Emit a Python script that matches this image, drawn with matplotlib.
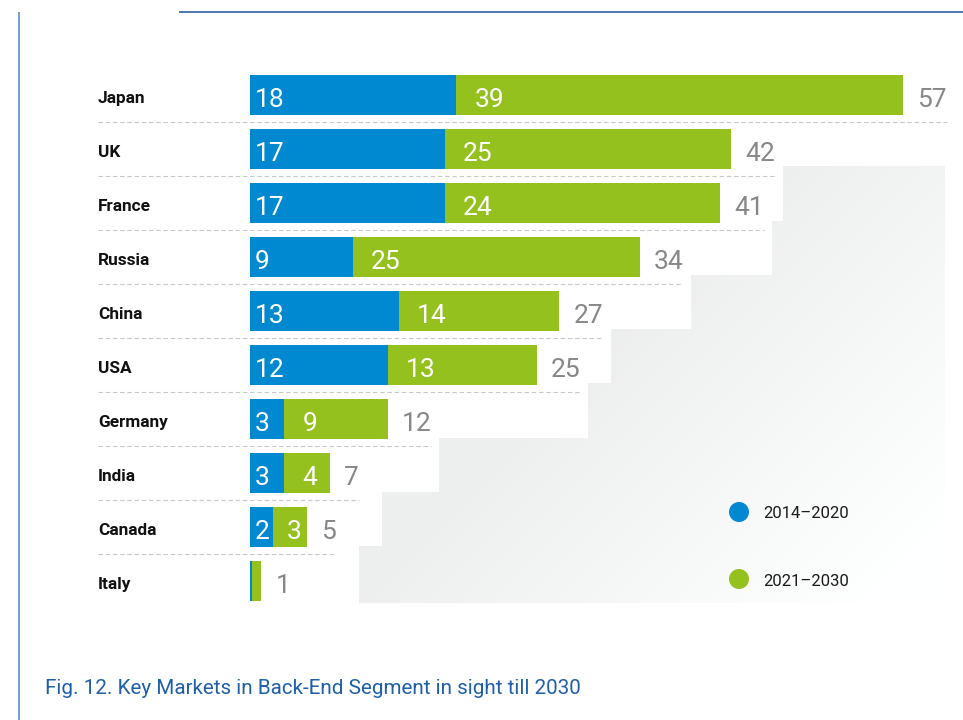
import numpy as np
import matplotlib
matplotlib.use("Agg")
import matplotlib.pyplot as plt
from matplotlib.patches import Polygon, Circle
from matplotlib.transforms import blended_transform_factory

# Markets and their volumes for the two periods
countries = ["Japan", "UK", "France", "Russia", "China", "USA",
             "Germany", "India", "Canada", "Italy"]
period_2014_2020 = [18, 17, 17, 9, 13, 12, 3, 3, 2, 0.15]
period_2021_2030 = [39, 25, 24, 25, 14, 13, 9, 4, 3, 0.85]
series_names = ["2014–2020", "2021–2030"]
caption = "Fig. 12. Key Markets in Back-End Segment in sight till 2030"

BLUE = "#0089d1"
GREEN = "#95c11f"
GREY_NUM = "#878787"
FONT = ["Roboto", "DejaVu Sans"]
plt.rcParams["lines.scale_dashes"] = False

W, H = 963, 720
fig = plt.figure(figsize=(W / 100, H / 100), dpi=100)

# background layer in pixel coordinates
bg = fig.add_axes([0, 0, 1, 1], zorder=0)
bg.axis("off")

# light grey staircase with a diagonal fade
yy, xx = np.mgrid[0:H, 0:W]
t = np.clip(((xx + yy) - 950) / 520, 0, 1)
shade = 0.932 + (0.998 - 0.932) * t
img = np.clip(np.dstack([shade, shade + 0.003, shade + 0.003]), 0, 1)
im = bg.imshow(img, extent=(0, W, H, 0), interpolation="bilinear", zorder=0)
stairs = [(783, 166), (945, 166), (945, 603), (359, 603), (359, 546), (382, 546),
          (382, 492), (439, 492), (439, 438), (588, 438), (588, 383), (611, 383),
          (611, 329), (691, 329), (691, 275), (772, 275), (772, 221), (783, 221)]
clip = Polygon(stairs, closed=True, facecolor="none", edgecolor="none",
               transform=bg.transData)
bg.add_patch(clip)
im.set_clip_path(clip)
bg.set_xlim(0, W)
bg.set_ylim(H, 0)
bg.set_aspect("auto")

# frame lines
bg.plot([179, W], [11.5, 11.5], color="#2f5f9e", lw=1.2, solid_capstyle="butt")
bg.plot([18.5, 18.5], [12, H], color="#5b8bd0", lw=1.2, solid_capstyle="butt")

# bar layer: x in units, y in row index
px_per_unit = 11.46
x0 = 250
pitch, y_first = 54, 95
ax = fig.add_axes([0, 0, 1, 1], zorder=1)
ax.patch.set_alpha(0)
ax.set_xlim(-x0 / px_per_unit, (W - x0) / px_per_unit)
ax.set_ylim((H - y_first) / pitch, -y_first / pitch)
ax.axis("off")

p1 = np.array(period_2014_2020)
p2 = np.array(period_2021_2030)
totals = p1 + p2
rows = np.arange(len(countries))
bar_h = 40 / pitch

ax.barh(rows, p1, height=bar_h, color=BLUE, linewidth=0)
ax.barh(rows, p2, left=p1, height=bar_h, color=GREEN, linewidth=0)

px = 0.72  # points per pixel at 100 dpi
trans = blended_transform_factory(bg.transData, ax.transData)
num_size = 19

total_texts = []
for i, name in enumerate(countries):
    ax.annotate(name, xy=(98, i), xycoords=trans, xytext=(0, -6.0),
                textcoords="offset points", ha="left", va="baseline",
                fontsize=12.4, fontweight="bold", family=FONT, color="#111111")
    if p1[i] >= 1:
        ax.annotate(f"{p1[i]:g}", xy=(0, i), xytext=(5 * px, -8.9),
                    textcoords="offset points", ha="left", va="baseline",
                    fontsize=num_size, family=FONT, color="white")
    if p2[i] >= 1:
        seg_px = p2[i] * px_per_unit
        off = min(18, seg_px * 0.4)
        ax.annotate(f"{p2[i]:g}", xy=(p1[i], i), xytext=(off * px, -8.9),
                    textcoords="offset points", ha="left", va="baseline",
                    fontsize=num_size, family=FONT, color="white")
    tt = ax.annotate(f"{round(totals[i], 2):g}", xy=(totals[i], i),
                     xytext=(14 * px, -8.9), textcoords="offset points",
                     ha="left", va="baseline", fontsize=num_size, family=FONT,
                     color=GREY_NUM)
    total_texts.append(tt)

# dashed separators run out to the end of each total
fig.canvas.draw()
renderer = fig.canvas.get_renderer()
for i, tt in enumerate(total_texts[:-1]):
    x_end = tt.get_window_extent(renderer).x1
    y_sep = y_first + pitch * (i + 0.5)
    bg.plot([98, x_end], [y_sep, y_sep], color="#c8c8c8", lw=0.8,
            dashes=(3.2, 2.0), zorder=1)

# legend
for k, (name, col) in enumerate(zip(series_names, [BLUE, GREEN])):
    cy = 512 + 67 * k
    bg.add_patch(Circle((739, cy), 10, color=col, linewidth=0, zorder=2))
    bg.text(763, cy + 6.5, name, ha="left", va="baseline", fontsize=12,
            family=FONT, color="#1a1a1a", zorder=2)

bg.text(45, 694, caption, ha="left", va="baseline", fontsize=14.9,
        family=FONT, color="#1f5ea8")

fig.savefig("out.png", dpi=100)
